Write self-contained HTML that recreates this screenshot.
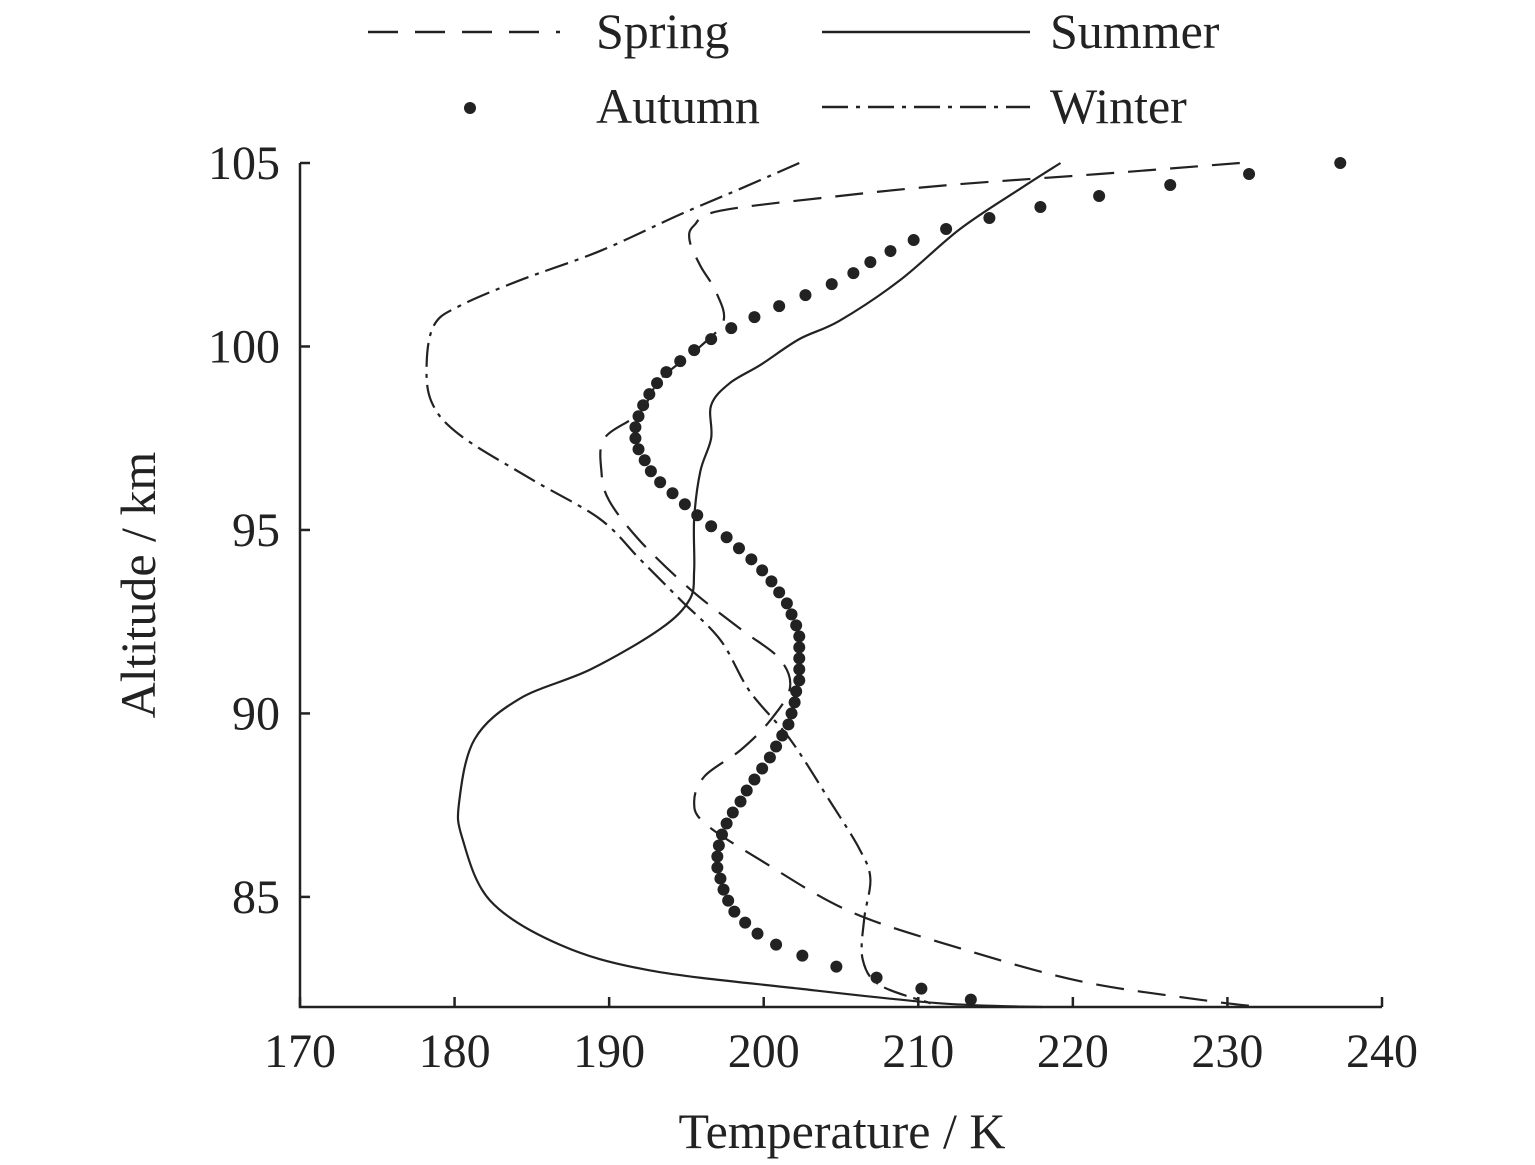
<!DOCTYPE html>
<html><head><meta charset="utf-8">
<style>
html,body{margin:0;padding:0;background:#fff;}
svg{display:block;font-family:"Liberation Serif",serif;}
</style></head>
<body>
<svg id="chart" width="1535" height="1165" viewBox="0 0 1535 1165" xmlns="http://www.w3.org/2000/svg">
<g id="legend">
 <g>
  <line x1="368" y1="32" x2="560" y2="32" stroke="#222" stroke-width="2.5" stroke-dasharray="30,17"/>
  <text x="596" y="48" font-size="50" fill="#222">Spring</text>
 </g>
 <g>
  <line x1="822" y1="32" x2="1030" y2="32" stroke="#222" stroke-width="2.5"/>
  <text x="1050" y="48" font-size="50" fill="#222">Summer</text>
 </g>
 <g>
  <circle cx="470" cy="108" r="6" fill="#222"/>
  <text x="596" y="123" font-size="50" fill="#222">Autumn</text>
 </g>
 <g>
  <line x1="822" y1="107" x2="1030" y2="107" stroke="#222" stroke-width="2.5" stroke-dasharray="26,8,4,8"/>
  <text x="1050" y="123" font-size="50" fill="#222">Winter</text>
 </g>
</g>
<g id="axes"></g>
<g id="series"></g>
<text x="842" y="1148" font-size="50" text-anchor="middle" fill="#222">Temperature / K</text>
<text transform="translate(155,585) rotate(-90)" font-size="50" text-anchor="middle" fill="#222">Altitude / km</text>
</svg>
<script>
const xTicks = [170,180,190,200,210,220,230,240];
const yTicks = [85,90,95,100,105];

const summerAlt = [105,104.3,103.2,101.8,100.7,100.2,99.5,99.0,98.4,97.5,96.6,95.3,93.9,93.1,92.3,91.2,90.4,89.3,87.6,86.6,84.9,83.7,83.0,82.5,82.1,82.0];
const summerT   = [219.2,216.6,212.7,208.8,204.9,202.3,199.8,197.8,196.6,196.6,195.9,195.5,195.5,195.2,193.3,188.8,184.2,181.3,180.3,180.5,182.3,186.8,192.6,202.3,211.4,218.0];

const winterAlt = [105,104.3,103.6,102.6,101.8,101.1,100.6,99.6,98.5,97.6,96.4,95.3,94.2,93.1,92.0,90.6,89.3,87.6,86.3,85.5,84.4,83.3,82.6,82.1];
const winterT   = [202.3,198.5,194.6,189.4,184.2,180.3,178.7,178.2,178.5,180.3,184.9,189.4,192.0,194.6,197.2,199.1,201.7,204.3,206.2,206.9,206.5,206.4,207.5,210.8];

const springAlt = [105,104.7,104.4,104.1,103.7,103.3,102.9,102.2,101.5,100.7,100.0,99.1,98.2,97.5,96.6,95.8,94.7,93.4,92.3,91.5,90.7,89.8,89.0,88.3,87.6,87.0,86.0,84.6,83.6,82.7,82.2,82.0];
const springT   = [230.8,221.7,212.0,204.9,197.2,195.5,195.2,195.9,196.9,197.4,195.9,193.3,192.0,189.7,189.5,190.0,192.0,195.2,198.5,201.0,201.7,200.4,198.5,196.2,195.5,196.2,199.8,205.6,212.7,220.5,228.2,232.1];

const autumnAlt = [105.0,104.7,104.4,104.1,103.8,103.5,103.2,102.9,102.6,102.3,102.0,101.7,101.4,101.1,100.8,100.5,100.2,99.9,99.6,99.3,99.0,98.7,98.4,98.1,97.8,97.5,97.2,96.9,96.6,96.3,96.0,95.7,95.4,95.1,94.8,94.5,94.2,93.9,93.6,93.3,93.0,92.7,92.4,92.1,91.8,91.5,91.2,90.9,90.6,90.3,90.0,89.7,89.4,89.1,88.8,88.5,88.2,87.9,87.6,87.3,87.0,86.7,86.4,86.1,85.8,85.5,85.2,84.9,84.6,84.3,84.0,83.7,83.4,83.1,82.8,82.5,82.2];
const autumnT   = [237.3,231.4,226.3,221.7,217.9,214.6,211.8,209.7,208.2,206.9,205.8,204.4,202.7,201.0,199.4,197.9,196.6,195.5,194.6,193.7,193.1,192.6,192.2,191.9,191.7,191.7,191.9,192.3,192.7,193.3,194.1,194.9,195.7,196.6,197.6,198.4,199.2,199.9,200.5,201.0,201.5,201.8,202.1,202.3,202.3,202.3,202.3,202.3,202.1,202.0,201.8,201.6,201.2,200.8,200.4,199.9,199.4,198.9,198.5,198.0,197.6,197.3,197.1,197.0,197.0,197.2,197.4,197.7,198.1,198.8,199.6,200.8,202.5,204.7,207.3,210.2,213.4];

const NS = "http://www.w3.org/2000/svg";
const X0 = 300, X1 = 1382, Y0 = 1007, Ytop = 163;
const xMin = 170, xMax = 240, yMin = 82, yMax = 105;
function xs(v){ return X0 + (v - xMin) / (xMax - xMin) * (X1 - X0); }
function ys(v){ return Ytop + (yMax - v) / (yMax - yMin) * (Y0 - Ytop); }
function mk(tag, attrs){ const e = document.createElementNS(NS, tag); for (const k in attrs) e.setAttribute(k, attrs[k]); return e; }

const axes = document.getElementById('axes');
const xAxis = mk('path', {d:`M${X0},${Ytop} L${X0},${Y0} L${X1},${Y0}`, fill:'none', stroke:'#222', 'stroke-width':2.5});


axes.appendChild(xAxis);
xTicks.forEach(t => {
  const x = xs(t);
  const tk = mk('line', {x1:x, y1:Y0, x2:x, y2:Y0-10, stroke:'#222', 'stroke-width':2.5});
  
  
  axes.appendChild(tk);
  const lb = mk('text', {x:x, y:Y0+60, 'font-size':48, 'text-anchor':'middle', fill:'#222'});
  lb.textContent = t;
  
  
  axes.appendChild(lb);
});
yTicks.forEach(t => {
  const y = ys(t);
  const tk = mk('line', {x1:X0, y1:y, x2:X0+10, y2:y, stroke:'#222', 'stroke-width':2.5});
  
  
  axes.appendChild(tk);
  const lb = mk('text', {x:X0-20, y:y+16, 'font-size':48, 'text-anchor':'end', fill:'#222'});
  lb.textContent = t;
  
  
  axes.appendChild(lb);
});

function smoothPath(T, A){
  const p = T.map((t,i)=>[xs(t), ys(A[i])]);
  let d = `M${p[0][0]},${p[0][1]}`;
  for (let i=0;i<p.length-1;i++){
    const p0 = p[Math.max(0,i-1)], p1 = p[i], p2 = p[i+1], p3 = p[Math.min(p.length-1,i+2)];
    const c1 = [p1[0]+(p2[0]-p0[0])/6, p1[1]+(p2[1]-p0[1])/6];
    const c2 = [p2[0]-(p3[0]-p1[0])/6, p2[1]-(p3[1]-p1[1])/6];
    d += ` C${c1[0]},${c1[1]} ${c2[0]},${c2[1]} ${p2[0]},${p2[1]}`;
  }
  return d;
}
const series = document.getElementById('series');
const summer = mk('path', {d:smoothPath(summerT, summerAlt), fill:'none', stroke:'#222', 'stroke-width':2.2});


series.appendChild(summer);
const spring = mk('path', {d:smoothPath(springT, springAlt), fill:'none', stroke:'#222', 'stroke-width':2.2, 'stroke-dasharray':'28,14'});


series.appendChild(spring);
const winter = mk('path', {d:smoothPath(winterT, winterAlt), fill:'none', stroke:'#222', 'stroke-width':2.2, 'stroke-dasharray':'24,7,4,7'});


series.appendChild(winter);
autumnT.forEach((t,i) => {
  const c = mk('circle', {cx:xs(t), cy:ys(autumnAlt[i]), r:6, fill:'#222'});
  
  
  series.appendChild(c);
});
</script>
</body></html>
